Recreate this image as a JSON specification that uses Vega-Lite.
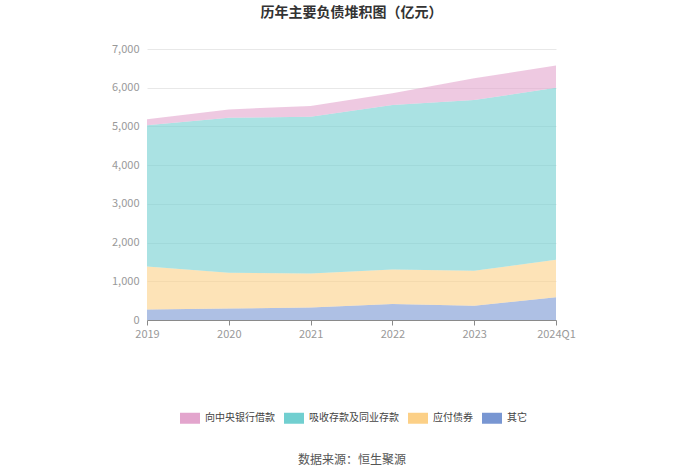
{
  "$schema": "https://vega.github.io/schema/vega-lite/v6.json",
  "width": 409,
  "height": 271,
  "autosize": "none",
  "padding": {"left": 147, "top": 49, "right": 144, "bottom": 154},
  "title": {"text": "历年主要负债堆积图（亿元）", "fontSize": 14, "fontWeight": "bold", "color": "#333333", "font": "Noto Sans CJK SC", "anchor": "middle", "offset": 23},
  "data": {"values": [
    {"year": "2019", "type": "其它", "ord": 1, "value": 270},
    {"year": "2020", "type": "其它", "ord": 1, "value": 300},
    {"year": "2021", "type": "其它", "ord": 1, "value": 320},
    {"year": "2022", "type": "其它", "ord": 1, "value": 414},
    {"year": "2023", "type": "其它", "ord": 1, "value": 370},
    {"year": "2024Q1", "type": "其它", "ord": 1, "value": 585},
    {"year": "2019", "type": "应付债券", "ord": 2, "value": 1110},
    {"year": "2020", "type": "应付债券", "ord": 2, "value": 918},
    {"year": "2021", "type": "应付债券", "ord": 2, "value": 880},
    {"year": "2022", "type": "应付债券", "ord": 2, "value": 889},
    {"year": "2023", "type": "应付债券", "ord": 2, "value": 900},
    {"year": "2024Q1", "type": "应付债券", "ord": 2, "value": 970},
    {"year": "2019", "type": "吸收存款及同业存款", "ord": 3, "value": 3650},
    {"year": "2020", "type": "吸收存款及同业存款", "ord": 3, "value": 4005},
    {"year": "2021", "type": "吸收存款及同业存款", "ord": 3, "value": 4050},
    {"year": "2022", "type": "吸收存款及同业存款", "ord": 3, "value": 4250},
    {"year": "2023", "type": "吸收存款及同业存款", "ord": 3, "value": 4410},
    {"year": "2024Q1", "type": "吸收存款及同业存款", "ord": 3, "value": 4446},
    {"year": "2019", "type": "向中央银行借款", "ord": 4, "value": 155},
    {"year": "2020", "type": "向中央银行借款", "ord": 4, "value": 217},
    {"year": "2021", "type": "向中央银行借款", "ord": 4, "value": 277},
    {"year": "2022", "type": "向中央银行借款", "ord": 4, "value": 303},
    {"year": "2023", "type": "向中央银行借款", "ord": 4, "value": 562},
    {"year": "2024Q1", "type": "向中央银行借款", "ord": 4, "value": 570}
  ]},
  "mark": {"type": "area", "opacity": 0.6, "interpolate": "linear"},
  "encoding": {
    "x": {"field": "year", "type": "ordinal", "sort": null,
      "scale": {"type": "point", "padding": 0},
      "axis": {"labelAngle": 0, "labelColor": "#999999", "labelFontSize": 11, "labelFont": "Noto Sans CJK SC",
        "domainColor": "#8a8a8a", "tickColor": "#8a8a8a", "tickSize": 5, "labelPadding": 3,
        "title": "数据来源：恒生聚源", "titleFontSize": 12, "titleFontWeight": "normal", "titleColor": "#555555",
        "titleFont": "Noto Sans CJK SC", "titlePadding": 115}},
    "y": {"field": "value", "type": "quantitative", "stack": "zero",
      "scale": {"domain": [0, 7000]},
      "axis": {"title": null, "values": [0, 1000, 2000, 3000, 4000, 5000, 6000, 7000], "format": ",.0f", "domain": false, "ticks": false,
        "labelColor": "#999999", "labelFontSize": 11, "labelFont": "Noto Sans CJK SC", "labelPadding": 8,
        "gridColor": "#e8e8e8"}},
    "color": {"field": "type", "type": "nominal",
      "scale": {"domain": ["向中央银行借款", "吸收存款及同业存款", "应付债券", "其它"],
        "range": ["#e3a5cd", "#71cfd0", "#fcd087", "#7896d2"]},
      "legend": {"title": null, "orient": "none", "direction": "horizontal", "legendX": 33, "legendY": 359,
        "symbolType": "M-1,-0.55H1V0.55H-1Z", "symbolSize": 400, "symbolOpacity": 1, "symbolStrokeWidth": 0,
        "labelFontSize": 10, "labelColor": "#444444", "labelFont": "Noto Sans CJK SC", "columnPadding": 9, "labelOffset": 5}},
    "order": {"field": "ord", "type": "quantitative"}
  },
  "config": {"view": {"stroke": null}}
}
